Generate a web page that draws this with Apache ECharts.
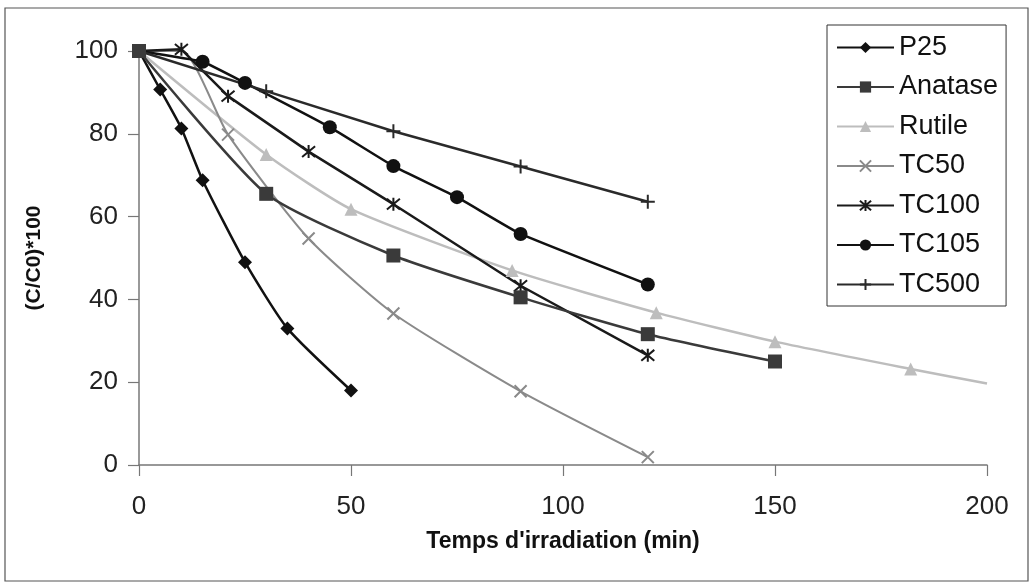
<!DOCTYPE html>
<html><head><meta charset="utf-8">
<script src="https://cdn.jsdelivr.net/npm/echarts@6/dist/echarts.min.js"></script>
<style>html,body{margin:0;padding:0;background:#fff}#c{width:1035px;height:588px}</style>
</head><body><div id="c"></div>
<script>
const seriesNames = ['P25','Anatase','Rutile','TC50','TC100','TC105','TC500'];
const p25 = [[0,100],[5,90.7],[10,81.3],[15,68.8],[25,49],[35,33],[50,18]];
const anatase = [[0,100],[30,65.5],[60,50.6],[90,40.5],[120,31.6],[150,25]];
const rutile = [[0,100],[30,75],[50,61.8],[88,47],[122,36.8],[150,29.8],[182,23.2],[200,19.7]];
const tc50 = [[0,100],[10,100],[21,79.8],[40,54.7],[60,36.6],[90,17.8],[120,1.9]];
const tc100 = [[0,100],[10,100.4],[21,89.1],[40,75.7],[60,63],[90,43.3],[120,26.5]];
const tc105 = [[0,100],[15,97.4],[25,92.3],[45,81.6],[60,72.2],[75,64.7],[90,55.8],[120,43.6]];
const tc500 = [[0,100],[30,90.3],[60,80.6],[90,72.1],[120,63.6]];
const xTicks = [0,50,100,150,200];
const yTicks = [0,20,40,60,80,100];

const X = 'path://M0,0L10,10M10,0L0,10';
const AST = 'path://M0,0L10,10M10,0L0,10M5,-1L5,11';
const PLUS = 'path://M5,0L5,10M0,5L10,5';
const font = '"Liberation Sans", Arial, sans-serif';

function mk(name, data, color, symbol, size, width, smooth, stroke, z) {
  const s = {
    name, type:'line', data, smooth, symbol, symbolSize:size,
    lineStyle:{color, width}, itemStyle:{color},
    animation:false, clip:false, z: z || 2
  };
  if (stroke) s.itemStyle = {color, borderColor:color, borderWidth:2};
  return s;
}
const rutileData = rutile.map((d,i)=> i===rutile.length-1 ? {value:d, symbol:'none'} : d);
const tc50Data = tc50.map((d,i)=> i===1 ? {value:d, symbol:'none'} : d);

const chart = echarts.init(document.getElementById('c'));
chart.setOption({
  backgroundColor:'#fff',
  animation:false,
  graphic:[{type:'rect', shape:{x:5, y:8, width:1023, height:573}, style:{fill:'none', stroke:'#555', lineWidth:1.2}, z:-1}],
  grid:{left:139, right:48, top:51, bottom:123},
  legend:{
    orient:'vertical', left:827, top:25, padding:[9,8,8,9],
    borderColor:'#333', borderWidth:1, backgroundColor:'#fff',
    itemWidth:57, itemHeight:14, itemGap:12.5,
    textStyle:{fontSize:27, lineHeight:27, fontFamily:font, color:'#111'},
    data: seriesNames
  },
  xAxis:{
    type:'value', min:0, max:200, interval:50,
    name:"Temps d'irradiation (min)", nameLocation:'middle', nameGap:65,
    nameTextStyle:{fontSize:23, fontWeight:'bold', fontFamily:font, color:'#111'},
    axisLine:{lineStyle:{color:'#777', width:1.5}},
    axisTick:{show:true, length:11, inside:false, lineStyle:{color:'#777', width:1.2}},
    axisLabel:{fontSize:26, fontFamily:font, color:'#222', margin:29, formatter:v=>xTicks.includes(v)?String(v):''},
    splitLine:{show:false}
  },
  yAxis:{
    type:'value', min:0, max:100, interval:20,
    name:'(C/C0)*100', nameLocation:'middle', nameGap:94, nameRotate:90,
    nameTextStyle:{fontSize:21, fontWeight:'bold', fontFamily:font, color:'#111'},
    axisLine:{show:true, lineStyle:{color:'#777', width:1.5}},
    axisTick:{show:true, length:11, inside:false, lineStyle:{color:'#777', width:1.2}},
    axisLabel:{fontSize:26, fontFamily:font, color:'#222', margin:21, formatter:v=>yTicks.includes(v)?String(v):''},
    splitLine:{show:false}
  },
  series:[
    mk('P25', p25, '#111', 'diamond', 14, 2.5, 0.2),
    mk('Anatase', anatase, '#3a3a3a', 'rect', 14, 2.5, 0.2, false, 3),
    mk('Rutile', rutileData, '#bdbdbd', 'triangle', 13, 2.5, 0.2),
    mk('TC50', tc50Data, '#8a8a8a', X, 12, 2, 0.2, true),
    mk('TC100', tc100, '#1a1a1a', AST, 13, 2.5, 0, true),
    mk('TC105', tc105, '#111', 'circle', 14, 2.5, 0.1),
    mk('TC500', tc500, '#2a2a2a', PLUS, 14, 2.5, 0, true)
  ]
});
</script></body></html>
